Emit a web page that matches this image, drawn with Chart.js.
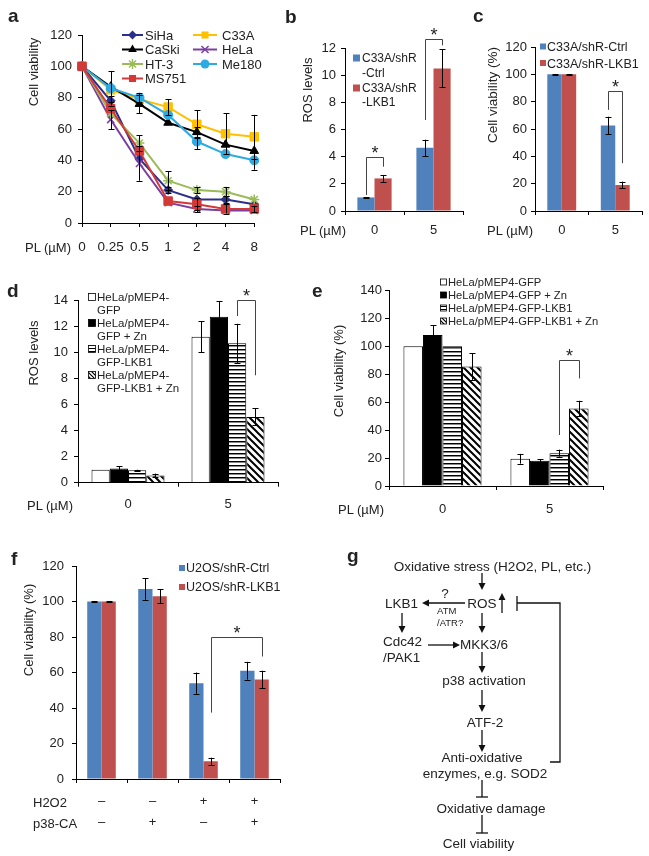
<!DOCTYPE html>
<html><head><meta charset="utf-8">
<script src="https://cdn.jsdelivr.net/npm/chart.js@4.4.1/dist/chart.umd.min.js"></script>
<style>
html,body{margin:0;padding:0;background:#fff;}
#wrap{position:relative;width:649px;height:856px;overflow:hidden;background:#fff;font-family:"Liberation Sans",Arial,sans-serif;}
#wrap canvas{position:absolute;}
#overlay{position:absolute;left:0;top:0;}
.star{position:absolute;font:18px/1 "Liberation Sans",Arial,sans-serif;color:#222;transform:translateX(-50%);white-space:nowrap;}
</style></head><body><div id="wrap"></div>
<script>
// ================= DATA =================
// Panel a
const doseA = ['0','0.25','0.5','1','2','4','8'];
const namesA = ['SiHa','C33A','CaSki','HeLa','HT-3','Me180','MS751'];
const sihaA   = [100, 78, 41, 21, 15, 15, 12];
const sihaErrA= [0, 3, 0, 2, 0, 2, 0];
const c33aA   = [100, 85, 79, 74, 63, 57, 55];
const c33aErrA= [0, 0, 0, 5, 9, 13, 14];
const caskiA  = [100, 87, 76, 64, 58, 50, 46];
const caskiErrA=[0, 10, 6, 0, 3, 0, 0];
const helaA   = [100, 66, 38, 13, 9, 8, 8];
const helaErrA= [0, 6, 11, 0, 2, 0, 0];
const ht3A    = [100, 70, 51, 27, 21, 20, 15];
const ht3ErrA = [0, 0, 5, 6, 2, 3, 0];
const me180A  = [100, 86, 80, 69, 52, 44, 40];
const me180ErrA=[0, 0, 3, 0, 5, 0, 6];
const ms751A  = [100, 73, 46, 14, 12, 9, 9];
const ms751ErrA=[0, 0, 0, 0, 4, 3, 2];

// Panel b / c
const doseBC = ['0','5'];
const namesBC = ['C33A/shR-Ctrl','C33A/shR-LKB1'];
const rosCtrlB = [1.0, 4.65];
const rosCtrlErrB = [0.02, 0.6];
const rosLkbB = [2.4, 10.5];
const rosLkbErrB = [0.25, 1.4];
const viaCtrlC = [100, 62.5];
const viaCtrlErrC = [0.3, 6.5];
const viaLkbC = [100, 19];
const viaLkbErrC = [0.3, 2.5];

// Panel d / e
const doseDE = ['0','5'];
const namesDE = ['HeLa/pMEP4-GFP','HeLa/pMEP4-GFP + Zn','HeLa/pMEP4-GFP-LKB1','HeLa/pMEP4-GFP-LKB1 + Zn'];
const rosGfpD = [1.0, 11.2];
const rosGfpErrD = [0, 1.2];
const rosGfpZnD = [1.1, 12.75];
const rosGfpZnErrD = [0.15, 1.2];
const rosLkbD = [0.95, 10.7];
const rosLkbErrD = [0.05, 1.5];
const rosLkbZnD = [0.55, 5.05];
const rosLkbZnErrD = [0.15, 0.65];
const viaGfpE = [100, 19.5];
const viaGfpErrE = [0, 3.5];
const viaGfpZnE = [108, 18];
const viaGfpZnErrE = [7, 1.2];
const viaLkbE = [100, 23.5];
const viaLkbErrE = [0, 2.5];
const viaLkbZnE = [85.5, 55.5];
const viaLkbZnErrE = [9.5, 5.5];

// Panel f
const condF = [['\u2013','\u2013'],['\u2013','+'],['+','\u2013'],['+','+']];
const namesF = ['U2OS/shR-Ctrl','U2OS/shR-LKB1'];
const viaCtrlF = [100, 107, 54, 61];
const viaCtrlErrF = [0.3, 6, 6, 5];
const viaLkbF = [100, 103, 10, 56];
const viaLkbErrF = [0.3, 4, 2, 5];

// significance brackets: [dataset, category] ends, bracket top value, left/right leg ends
const bracketsB = [{a:[0,0], b:[1,0], top:4.0, l:1.18, r:3.26}, {a:[0,1], b:[1,1], top:12.67, l:6.7, r:12.2}];
const bracketsC = [{a:[0,1], b:[1,1], top:88, l:74, r:35}];
const bracketsD = [{a:[2,1], b:[3,1], top:14.0, l:12.8, r:8.25}];
const bracketsE = [{a:[2,1], b:[3,1], top:90, l:36.5, r:77}];
const bracketsF = [{a:[1,2], b:[1,3], top:80, l:37.4, r:69}];

// ================= STYLE / SETUP =================
const FONT = '"Liberation Sans", Arial, sans-serif';
Chart.defaults.font.family = FONT;
Chart.defaults.font.size = 13;
Chart.defaults.color = '#222';
Chart.defaults.animation = false;
Chart.defaults.plugins.legend.display = false;
Chart.defaults.plugins.tooltip.enabled = false;

const BLUE = '#4F81BD', RED = '#C0504D';
const wrap = document.getElementById('wrap');

const errorBars = {
  id: 'errorBars',
  afterDatasetsDraw(chart) {
    const ctx = chart.ctx, ys = chart.scales.y;
    ctx.save(); ctx.strokeStyle = '#000'; ctx.lineWidth = 1;
    chart.data.datasets.forEach((ds, i) => {
      const errs = ds.errs; if (!errs) return;
      const meta = chart.getDatasetMeta(i);
      meta.data.forEach((el, j) => {
        const e = errs[j]; if (!e) return;
        const v = ds.data[j];
        const x = Math.round(el.x) + 0.5;
        const y1 = ys.getPixelForValue(v + e), y2 = ys.getPixelForValue(v - e);
        const cw = 3;
        ctx.beginPath();
        ctx.moveTo(x, y1); ctx.lineTo(x, y2);
        ctx.moveTo(x - cw, Math.round(y1)+0.5); ctx.lineTo(x + cw, Math.round(y1)+0.5);
        ctx.moveTo(x - cw, Math.round(y2)+0.5); ctx.lineTo(x + cw, Math.round(y2)+0.5);
        ctx.stroke();
      });
    });
    ctx.restore();
  }
};

function bracketPlugin(items, box) {
  const stars = [];
  return {
    id: 'brackets',
    afterDatasetsDraw(chart) {
      const ctx = chart.ctx, ys = chart.scales.y;
      ctx.save(); ctx.strokeStyle = '#444'; ctx.lineWidth = 1;
      items.forEach((b, k) => {
        const x1 = Math.round(chart.getDatasetMeta(b.a[0]).data[b.a[1]].x) + 0.5;
        const x2 = Math.round(chart.getDatasetMeta(b.b[0]).data[b.b[1]].x) + 0.5;
        const yt = Math.round(ys.getPixelForValue(b.top)) + 0.5;
        const yl = ys.getPixelForValue(b.l), yr = ys.getPixelForValue(b.r);
        ctx.beginPath();
        ctx.moveTo(x1, yl); ctx.lineTo(x1, yt); ctx.lineTo(x2, yt); ctx.lineTo(x2, yr);
        ctx.stroke();
        if (!stars[k]) { const d = document.createElement('div'); d.className = 'star'; d.textContent = '*'; wrap.appendChild(d); stars[k] = d; }
        stars[k].style.left = (box.l + (x1 + x2) / 2) + 'px';
        stars[k].style.top = (box.t + yt - 14) + 'px';
      });
      ctx.restore();
    }
  };
}

function yAxis(min, max, step, pad) {
  return { min, max, ticks: { stepSize: step, padding: pad, color: '#222', font: { size: 13 } },
    grid: { display: true, drawOnChartArea: false, drawTicks: true, tickLength: 4, color: '#000' },
    border: { display: true, color: '#000', width: 1 } };
}
function xAxis(pad, offset, extraFont) {
  return { offset: offset, ticks: { padding: pad, color: '#222', maxRotation: 0, autoSkip: false, font: Object.assign({ size: 13 }, extraFont || {}) },
    grid: { display: true, offset: offset, drawOnChartArea: false, drawTicks: true, tickLength: 4, color: '#000' },
    border: { display: true, color: '#000', width: 1 } };
}

function makeChart(box, area, cfg, extraPlugins) {
  const cv = document.createElement('canvas');
  cv.width = box.w; cv.height = box.h;
  cv.style.left = box.l + 'px'; cv.style.top = box.t + 'px';
  cv.style.width = box.w + 'px'; cv.style.height = box.h + 'px';
  wrap.appendChild(cv);
  cfg.options = cfg.options || {};
  cfg.options.responsive = false;
  cfg.options.maintainAspectRatio = false;
  cfg.options.devicePixelRatio = 1;
  cfg.options.layout = { padding: { left: 0, top: area.top - box.t, right: box.l + box.w - area.right, bottom: 0 } };
  cfg.options.scales.x.afterFit = s => { s.height = box.t + box.h - area.bottom; };
  cfg.options.scales.y.afterFit = s => { s.width = area.left - box.l; };
  cfg.plugins = [errorBars].concat(extraPlugins || []);
  return new Chart(cv, cfg);
}

function patH() {
  const c = document.createElement('canvas'); c.width = 4; c.height = 4;
  const g = c.getContext('2d'); g.fillStyle = '#fff'; g.fillRect(0, 0, 4, 4);
  g.fillStyle = '#000'; g.fillRect(0, 0, 4, 1); g.fillStyle = '#888'; g.fillRect(0, 1, 4, 1);
  return g.createPattern(c, 'repeat');
}
function patD() {
  const c = document.createElement('canvas'); c.width = 7; c.height = 7;
  const g = c.getContext('2d'); g.fillStyle = '#fff'; g.fillRect(0, 0, 7, 7);
  g.strokeStyle = '#000'; g.lineWidth = 2; g.beginPath();
  g.moveTo(-1, -1); g.lineTo(8, 8); g.moveTo(-1, 6); g.lineTo(1, 8); g.moveTo(6, -1); g.lineTo(8, 1); g.stroke();
  return g.createPattern(c, 'repeat');
}

// ================= PANEL a =================
const lineStyleA = {
  'SiHa':  { c: '#2B2F8C', p: 'rectRot', r: 4.5 },
  'C33A':  { c: '#FFC000', p: 'rect', r: 6 },
  'CaSki': { c: '#000000', p: 'triangle', r: 5 },
  'HeLa':  { c: '#7B3FA0', p: 'crossRot', r: 5 },
  'HT-3':  { c: '#9BBB59', p: 'star', r: 5 },
  'Me180': { c: '#2DAAE1', p: 'circle', r: 4.5 },
  'MS751': { c: '#D23A3A', p: 'rect', r: 6 }
};
const valsA = { 'SiHa': [sihaA, sihaErrA], 'C33A': [c33aA, c33aErrA], 'CaSki': [caskiA, caskiErrA], 'HeLa': [helaA, helaErrA],
  'HT-3': [ht3A, ht3ErrA], 'Me180': [me180A, me180ErrA], 'MS751': [ms751A, ms751ErrA] };
makeChart({ l: 40, t: 20, w: 230, h: 240 }, { left: 82, right: 260, top: 35, bottom: 223 }, {
  type: 'line',
  data: { labels: doseA, datasets: namesA.map((n, i) => ({
    label: n, data: valsA[n][0], errs: valsA[n][1], order: namesA.length - i,
    borderColor: lineStyleA[n].c, backgroundColor: lineStyleA[n].c, borderWidth: 2, tension: 0,
    pointStyle: lineStyleA[n].p, pointRadius: lineStyleA[n].r, pointBorderColor: lineStyleA[n].c,
    pointBackgroundColor: lineStyleA[n].c, pointBorderWidth: (lineStyleA[n].p === 'star' || lineStyleA[n].p === 'crossRot') ? 1.5 : 1
  })) },
  options: { scales: { x: xAxis(12, false, { size: 13.5 }), y: yAxis(0, 120, 20, 6) } }
});

// ================= PANEL b =================
const boxB = { l: 315, t: 30, w: 160, h: 220 };
makeChart(boxB, { left: 345, right: 463, top: 48, bottom: 211 }, {
  type: 'bar',
  data: { labels: doseBC, datasets: [
    { label: namesBC[0], data: rosCtrlB, errs: rosCtrlErrB, backgroundColor: BLUE, categoryPercentage: 0.58, barPercentage: 1 },
    { label: namesBC[1], data: rosLkbB, errs: rosLkbErrB, backgroundColor: RED, categoryPercentage: 0.58, barPercentage: 1 }
  ] },
  options: { scales: { x: xAxis(7.2, true), y: yAxis(0, 12, 2, 5) } }
}, [bracketPlugin(bracketsB, boxB)]);

// ================= PANEL c =================
const boxC = { l: 500, t: 30, w: 149, h: 220 };
makeChart(boxC, { left: 535, right: 642, top: 47, bottom: 211 }, {
  type: 'bar',
  data: { labels: doseBC, datasets: [
    { label: namesBC[0], data: viaCtrlC, errs: viaCtrlErrC, backgroundColor: BLUE, categoryPercentage: 0.54, barPercentage: 1 },
    { label: namesBC[1], data: viaLkbC, errs: viaLkbErrC, backgroundColor: RED, categoryPercentage: 0.54, barPercentage: 1 }
  ] },
  options: { scales: { x: xAxis(7.2, true), y: yAxis(0, 120, 20, 4) } }
}, [bracketPlugin(bracketsC, boxC)]);

// ================= PANEL d / e =================
function deDatasets(vals, errs, cp) {
  const fills = ['#ffffff', '#000000', patH(), patD()];
  return namesDE.map((n, i) => ({ label: n, data: vals[i], errs: errs[i], backgroundColor: fills[i],
    borderColor: '#000', borderWidth: 1, categoryPercentage: cp, barPercentage: 1 }));
}
const boxD = { l: 40, t: 285, w: 250, h: 240 };
makeChart(boxD, { left: 78, right: 278, top: 300.4, bottom: 482.7 }, {
  type: 'bar',
  data: { labels: doseDE, datasets: deDatasets([rosGfpD, rosGfpZnD, rosLkbD, rosLkbZnD], [rosGfpErrD, rosGfpZnErrD, rosLkbErrD, rosLkbZnErrD], 0.73) },
  options: { scales: { x: xAxis(10.4, true), y: yAxis(0, 14, 2, 6) } }
}, [bracketPlugin(bracketsD, boxD)]);

const boxE = { l: 350, t: 275, w: 270, h: 250 };
makeChart(boxE, { left: 389, right: 603, top: 290.4, bottom: 486 }, {
  type: 'bar',
  data: { labels: doseDE, datasets: deDatasets([viaGfpE, viaGfpZnE, viaLkbE, viaLkbZnE], [viaGfpErrE, viaGfpZnErrE, viaLkbErrE, viaLkbZnErrE], 0.73) },
  options: { scales: { x: xAxis(11.2, true), y: yAxis(0, 140, 20, 3) } }
}, [bracketPlugin(bracketsE, boxE)]);

// ================= PANEL f =================
const boxF = { l: 40, t: 550, w: 250, h: 300 };
makeChart(boxF, { left: 76, right: 280, top: 566, bottom: 779 }, {
  type: 'bar',
  data: { labels: condF, datasets: [
    { label: namesF[0], data: viaCtrlF, errs: viaCtrlErrF, backgroundColor: BLUE, categoryPercentage: 0.56, barPercentage: 1 },
    { label: namesF[1], data: viaLkbF, errs: viaLkbErrF, backgroundColor: RED, categoryPercentage: 0.56, barPercentage: 1 }
  ] },
  options: { scales: { x: xAxis(8, true, { lineHeight: 1.615 }), y: yAxis(0, 120, 20, 8) } }
}, [bracketPlugin(bracketsF, boxF)]);

// ================= OVERLAY (text, legends, diagram) =================
let s = '<svg id="overlay" width="649" height="856" xmlns="http://www.w3.org/2000/svg" font-family="\'Liberation Sans\', Arial, sans-serif" fill="#222">';
s += '<defs><pattern id="ph" width="3" height="3" patternUnits="userSpaceOnUse"><rect width="3" height="3" fill="#fff"/><rect width="3" height="1" fill="#000"/></pattern>' +
     '<pattern id="pd" width="4" height="4" patternUnits="userSpaceOnUse"><rect width="4" height="4" fill="#fff"/><path d="M-1,-1 L5,5 M-1,3 L1,5 M3,-1 L5,1" stroke="#000" stroke-width="1.2"/></pattern></defs>';
function T(txt, x, y, o) {
  o = o || {};
  const size = o.size || 13, anchor = o.anchor || 'start', w = o.bold ? 'bold' : 'normal';
  const esc = String(txt).replace(/&/g, '&amp;').replace(/</g, '&lt;');
  if (o.rot) return '<text x="' + x + '" y="' + y + '" font-size="' + size + '" text-anchor="middle" dominant-baseline="central" transform="rotate(-90 ' + x + ' ' + y + ')">' + esc + '</text>';
  return '<text x="' + x + '" y="' + y + '" font-size="' + size + '" font-weight="' + w + '" text-anchor="' + anchor + '">' + esc + '</text>';
}
// panel letters
[['a', 8, 22], ['b', 285, 23], ['c', 473, 22], ['d', 7, 297], ['e', 312, 297], ['f', 11, 565], ['g', 347, 562]].forEach(p => s += T(p[0], p[1], p[2], { size: 19, bold: true }));
// axis titles
s += T('Cell viability', 33, 72, { rot: true });
s += T('ROS levels', 307, 90, { rot: true });
s += T('Cell viability (%)', 492, 95, { rot: true, size: 13.5 });
s += T('ROS levels', 33, 353, { rot: true });
s += T('Cell viability (%)', 338, 371, { rot: true });
s += T('Cell viability (%)', 28, 630, { rot: true });
s += T('PL (\u00b5M)', 25, 251.5);
s += T('PL (\u00b5M)', 300, 234.5);
s += T('PL (\u00b5M)', 487, 234.5);
s += T('PL (\u00b5M)', 27, 509.5);
s += T('PL (\u00b5M)', 338, 513.5);
s += T('H2O2', 33, 806.5);
s += T('p38-CA', 33, 827.5);

// legend a
function markerSVG(st, cx, cy, col) {
  const r = st.r;
  switch (st.p) {
    case 'rectRot': return '<polygon points="' + cx + ',' + (cy - r) + ' ' + (cx + r) + ',' + cy + ' ' + cx + ',' + (cy + r) + ' ' + (cx - r) + ',' + cy + '" fill="' + col + '"/>';
    case 'rect': { const h = r * Math.SQRT1_2; return '<rect x="' + (cx - h) + '" y="' + (cy - h) + '" width="' + 2 * h + '" height="' + 2 * h + '" fill="' + col + '"/>'; }
    case 'triangle': return '<polygon points="' + cx + ',' + (cy - r) + ' ' + (cx + 0.866 * r) + ',' + (cy + 0.5 * r) + ' ' + (cx - 0.866 * r) + ',' + (cy + 0.5 * r) + '" fill="' + col + '"/>';
    case 'circle': return '<circle cx="' + cx + '" cy="' + cy + '" r="' + r + '" fill="' + col + '"/>';
    case 'crossRot': { const d = r * 0.707; return '<path d="M' + (cx - d) + ',' + (cy - d) + 'L' + (cx + d) + ',' + (cy + d) + 'M' + (cx - d) + ',' + (cy + d) + 'L' + (cx + d) + ',' + (cy - d) + '" stroke="' + col + '" stroke-width="1.5"/>'; }
    case 'star': { const d = r * 0.707; return '<path d="M' + (cx - d) + ',' + (cy - d) + 'L' + (cx + d) + ',' + (cy + d) + 'M' + (cx - d) + ',' + (cy + d) + 'L' + (cx + d) + ',' + (cy - d) + 'M' + cx + ',' + (cy - r) + 'L' + cx + ',' + (cy + r) + 'M' + (cx - r) + ',' + cy + 'L' + (cx + r) + ',' + cy + '" stroke="' + col + '" stroke-width="1.5"/>'; }
  }
  return '';
}
const legA = [['SiHa', 0, 0], ['CaSki', 0, 1], ['HT-3', 0, 2], ['MS751', 0, 3], ['C33A', 1, 0], ['HeLa', 1, 1], ['Me180', 1, 2]];
legA.forEach(([n, col, row]) => {
  const x0 = col ? 193 : 122, x1 = col ? 217 : 143, tx = col ? 222 : 145, cy = 35 + row * 14.5;
  const st = lineStyleA[n];
  s += '<line x1="' + x0 + '" y1="' + cy + '" x2="' + x1 + '" y2="' + cy + '" stroke="' + st.c + '" stroke-width="2"/>';
  s += markerSVG({ p: st.p, r: Math.min(st.r, 5) }, (x0 + x1) / 2, cy, st.c);
  s += T(n, tx, cy + 4.7);
});
// legend b
s += '<rect x="353" y="54.5" width="7" height="7" fill="' + BLUE + '"/>';
s += T('C33A/shR', 362, 62.3, { size: 12 }) + T('-Ctrl', 362, 77, { size: 12 });
s += '<rect x="353" y="84.5" width="7" height="7" fill="' + RED + '"/>';
s += T('C33A/shR', 362, 92.3, { size: 12 }) + T('-LKB1', 362, 106, { size: 12 });
// legend c
s += '<rect x="540" y="43.5" width="6" height="6" fill="' + BLUE + '"/>' + T(namesBC[0], 547, 51, { size: 12.5 });
s += '<rect x="540" y="60" width="6" height="6" fill="' + RED + '"/>' + T(namesBC[1], 547, 67.6, { size: 12.5 });
// legend d (wrapped)
const boxFill = ['#fff', '#000', 'url(#ph)', 'url(#pd)'];
const wrapD = [['HeLa/pMEP4-', 'GFP'], ['HeLa/pMEP4-', 'GFP + Zn'], ['HeLa/pMEP4-', 'GFP-LKB1'], ['HeLa/pMEP4-', 'GFP-LKB1 + Zn']];
wrapD.forEach((lines, i) => {
  const cy = 297 + i * 26;
  s += '<rect x="88.5" y="' + (cy - 3.5) + '" width="7" height="7" fill="' + boxFill[i] + '" stroke="#000" stroke-width="0.8"/>';
  s += T(lines[0], 97, cy + 4.2, { size: 11.5 }) + T(lines[1], 97, cy + 13 + 4.2, { size: 11.5 });
});
// legend e
namesDE.forEach((n, i) => {
  const cy = 282 + i * 13;
  s += '<rect x="440.5" y="' + (cy - 3) + '" width="6" height="6" fill="' + boxFill[i] + '" stroke="#000" stroke-width="0.8"/>';
  s += T(n, 448, cy + 4, { size: 11.2 });
});
// legend f
s += '<rect x="179" y="565" width="6" height="6" fill="' + BLUE + '"/>' + T(namesF[0], 186, 572.3, { size: 12.5 });
s += '<rect x="179" y="584" width="6" height="6" fill="' + RED + '"/>' + T(namesF[1], 186, 591.3, { size: 12.5 });

// diagram g
function arrow(x1, y1, x2, y2) {
  const dx = x2 - x1, dy = y2 - y1, L = Math.hypot(dx, dy), ux = dx / L, uy = dy / L, hl = 7, hw = 3.5;
  const bx = x2 - ux * hl, by = y2 - uy * hl;
  return '<line x1="' + x1 + '" y1="' + y1 + '" x2="' + bx + '" y2="' + by + '" stroke="#111" stroke-width="1.3"/>' +
    '<polygon points="' + x2 + ',' + y2 + ' ' + (bx - uy * hw) + ',' + (by + ux * hw) + ' ' + (bx + uy * hw) + ',' + (by - ux * hw) + '" fill="#111"/>';
}
function inhibit(x, y1, y2) {
  return '<line x1="' + x + '" y1="' + y1 + '" x2="' + x + '" y2="' + y2 + '" stroke="#111" stroke-width="1.3"/>' +
    '<line x1="' + (x - 6) + '" y1="' + y2 + '" x2="' + (x + 6) + '" y2="' + y2 + '" stroke="#111" stroke-width="1.3"/>';
}
const DG = { size: 13.5 };
const DGm = { size: 13.5, anchor: 'middle' };
s += T('Oxidative stress (H2O2, PL, etc.)', 492.5, 570.6, DGm);
s += arrow(482, 573, 482, 590);
s += T('ROS', 482, 607.6, DGm);
s += arrow(502, 613, 502, 593);
s += '<line x1="517" y1="596" x2="517" y2="611" stroke="#111" stroke-width="1.3"/>';
s += '<polyline points="517,603 560,603 560,762 550,762" fill="none" stroke="#111" stroke-width="1.3"/>';
s += T('?', 445, 597.6, DGm);
s += arrow(465, 603, 422, 603);
s += T('LKB1', 401.5, 607.6, DGm);
s += T('ATM', 437, 614, { size: 9.5 }) + T('/ATR?', 437, 626, { size: 9.5 });
s += arrow(402, 613, 402, 633);
s += T('Cdc42', 383, 645.6, DG) + T('/PAK1', 383, 661.6, DG);
s += arrow(428, 645, 460, 645);
s += T('MKK3/6', 460, 648.6, DG);
s += arrow(482, 613, 482, 633);
s += arrow(482, 652, 482, 673);
s += T('p38 activation', 484, 684.6, DGm);
s += arrow(482, 690, 482, 712);
s += T('ATF-2', 485, 726.6, DGm);
s += arrow(482, 730, 482, 752);
s += T('Anti-oxidative', 482, 761.6, DGm);
s += T('enzymes, e.g. SOD2', 485, 777.6, DGm);
s += inhibit(482, 780, 797);
s += T('Oxidative damage', 491, 812.6, DGm);
s += inhibit(482, 815, 833);
s += T('Cell viability', 478.5, 847.6, DGm);
s += '</svg>';
wrap.insertAdjacentHTML('beforeend', s);
</script></body></html>
